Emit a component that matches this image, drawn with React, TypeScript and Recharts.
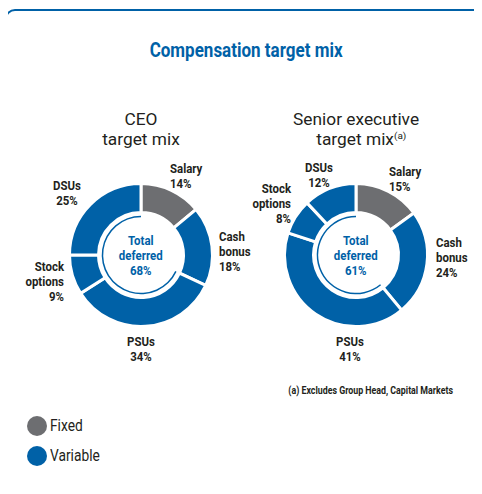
import React from 'react'
import { Cell, Pie, PieChart } from 'recharts'

// compensation components, clockwise from 12 o'clock
const categories = ['Salary', 'Cash bonus', 'PSUs', 'Stock options', 'DSUs']
const payType = ['Fixed', 'Variable', 'Variable', 'Variable', 'Variable']
const deferredFlags = [false, false, true, true, true]
const ceoValues = [14, 18, 34, 9, 25]
const seniorValues = [15, 24, 41, 8, 12]
const legendItems = ['Fixed', 'Variable']

const BLUE = '#0061a7'
const GRAY = '#6d6e71'
const TEXT = '#231f20'
const FONT = "Roboto, 'Liberation Sans', sans-serif"

const typeColor: Record<string, string> = { Fixed: GRAY, Variable: BLUE }

const OUTER = 71.5
const INNER = 42.5
const CEO_CENTER = { x: 141, y: 255 }
const SENIOR_CENTER = { x: 356, y: 255 }

// label block placement relative to each donut centre (first baseline)
const labelLayout: Record<string, { dx: number; dy: number; anchor: 'start' | 'middle' | 'end' }[]> = {
  ceo: [
    { dx: 29, dy: -82, anchor: 'start' },
    { dx: 78, dy: -14, anchor: 'start' },
    { dx: 0, dy: 91, anchor: 'middle' },
    { dx: -77, dy: 16, anchor: 'end' },
    { dx: -74, dy: -65, anchor: 'middle' },
  ],
  senior: [
    { dx: 33, dy: -79, anchor: 'start' },
    { dx: 80, dy: -8, anchor: 'start' },
    { dx: -6, dy: 91, anchor: 'middle' },
    { dx: -65, dy: -62, anchor: 'end' },
    { dx: -37, dy: -83, anchor: 'middle' },
  ],
}

const buildRows = (values: number[]) =>
  categories.map((name, i) => ({ name, value: values[i], type: payType[i], deferred: deferredFlags[i] }))

const deferredSplit = (values: number[]) => {
  const deferred = values.filter((_, i) => deferredFlags[i]).reduce((a, b) => a + b, 0)
  const other = values.filter((_, i) => !deferredFlags[i]).reduce((a, b) => a + b, 0)
  return [
    { name: 'Not deferred', value: other },
    { name: 'Deferred', value: deferred },
  ]
}

const makeLabel = (key: string, center: { x: number; y: number }) => (props: any) => {
  const { index, name, value } = props
  const pos = labelLayout[key][index]
  const lines = [...String(name).split(' '), `${value}%`]
  return (
    <text
      key={`${key}-${index}`}
      transform={`translate(${center.x + pos.dx} ${center.y + pos.dy}) scale(0.88 1)`}
      x={0}
      y={0}
      textAnchor={pos.anchor}
      fill={TEXT}
      fontFamily={FONT}
      fontWeight={700}
      fontSize={13}
    >
      {lines.map((l, j) => (
        <tspan key={j} x={0} dy={j === 0 ? 0 : 15}>
          {l}
        </tspan>
      ))}
    </text>
  )
}

function Donut({ values, chartKey, center }: { values: number[]; chartKey: string; center: { x: number; y: number } }) {
  const rows = buildRows(values)
  return [
    <Pie
      key={`${chartKey}-ring`}
      data={rows}
      dataKey="value"
      nameKey="name"
      cx={center.x}
      cy={center.y}
      innerRadius={INNER}
      outerRadius={OUTER}
      startAngle={90}
      endAngle={-270}
      stroke="#fff"
      strokeWidth={3}
      label={makeLabel(chartKey, center)}
      labelLine={false}
      isAnimationActive={false}
    >
      {rows.map((r, i) => (
        <Cell key={i} fill={typeColor[r.type]} />
      ))}
    </Pie>,
    <Pie
      key={`${chartKey}-deferred`}
      data={deferredSplit(values)}
      dataKey="value"
      cx={center.x}
      cy={center.y}
      innerRadius={37.8}
      outerRadius={39.3}
      startAngle={90}
      endAngle={-270}
      stroke="none"
      isAnimationActive={false}
    >
      <Cell fill="none" />
      <Cell fill={BLUE} />
    </Pie>,
  ]
}

const squeeze = (s: number, origin = 'center'): React.CSSProperties => ({
  display: 'inline-block',
  transform: `scaleX(${s})`,
  transformOrigin: origin,
  whiteSpace: 'nowrap',
})

function CenterText({ values, center }: { values: number[]; center: { x: number; y: number } }) {
  const total = deferredSplit(values)[1].value
  return (
    <div
      style={{
        position: 'absolute',
        left: center.x - 40,
        top: center.y - 22,
        width: 80,
        textAlign: 'center',
        color: BLUE,
        fontWeight: 700,
        fontSize: 13.5,
        lineHeight: '15px',
      }}
    >
      <span style={squeeze(0.85)}>
        Total
        <br />
        deferred
        <br />
        {total}%
      </span>
    </div>
  )
}

const subTitle: React.CSSProperties = {
  position: 'absolute',
  textAlign: 'center',
  color: TEXT,
  fontSize: 16.5,
  lineHeight: '19.5px',
  whiteSpace: 'nowrap',
}

export default function App() {
  return (
    <div
      style={{
        position: 'relative',
        width: 482,
        height: 494,
        margin: -8,
        overflow: 'hidden',
        background: '#fff',
        fontFamily: FONT,
      }}
    >
      <div
        style={{
          position: 'absolute',
          left: 5,
          top: 9,
          width: 482,
          height: 485,
          border: `2.5px solid ${BLUE}`,
          borderRadius: 10,
          boxSizing: 'border-box',
        }}
      />
      <div
        style={{
          position: 'absolute',
          left: 0,
          top: 37,
          width: 492,
          textAlign: 'center',
          color: BLUE,
          fontWeight: 700,
          fontSize: 21,
          lineHeight: '26px',
        }}
      >
        <span style={squeeze(0.81)}>Compensation target mix</span>
      </div>
      <div style={{ ...subTitle, left: CEO_CENTER.x - 70, top: 110, width: 140 }}>
        <span style={squeeze(1.05)}>
          CEO
          <br />
          target mix
        </span>
      </div>
      <div style={{ ...subTitle, left: SENIOR_CENTER.x - 90, top: 110, width: 180 }}>
        <span style={squeeze(1.05)}>
          Senior executive
          <br />
          <span style={{ position: 'relative', left: 5 }}>
            target mix<span style={{ fontSize: 9.5, position: 'relative', top: -6 }}>(a)</span>
          </span>
        </span>
      </div>

      <div style={{ position: 'absolute', left: 0, top: 0 }}>
        <PieChart width={482} height={494} margin={{ top: 0, right: 0, bottom: 0, left: 0 }}>
          {Donut({ values: ceoValues, chartKey: 'ceo', center: CEO_CENTER })}
          {Donut({ values: seniorValues, chartKey: 'senior', center: SENIOR_CENTER })}
        </PieChart>
      </div>

      <CenterText values={ceoValues} center={CEO_CENTER} />
      <CenterText values={seniorValues} center={SENIOR_CENTER} />

      <div
        style={{
          position: 'absolute',
          left: 153,
          width: 300,
          top: 384,
          textAlign: 'right',
          color: TEXT,
          fontWeight: 700,
          fontSize: 10.5,
          lineHeight: '14px',
        }}
      >
        <span style={squeeze(0.84, 'right')}>(a) Excludes Group Head, Capital Markets</span>
      </div>

      {legendItems.map((item, i) => (
        <div
          key={item}
          style={{
            position: 'absolute',
            left: 27,
            top: 416 + i * 30,
            display: 'flex',
            alignItems: 'center',
            color: TEXT,
            fontSize: 16,
            lineHeight: '20px',
          }}
        >
          <span
            style={{
              display: 'inline-block',
              width: 20,
              height: 20,
              borderRadius: 10,
              background: typeColor[item],
              marginRight: 3,
            }}
          />
          <span style={squeeze(0.86, 'left')}>{item}</span>
        </div>
      ))}
    </div>
  )
}
